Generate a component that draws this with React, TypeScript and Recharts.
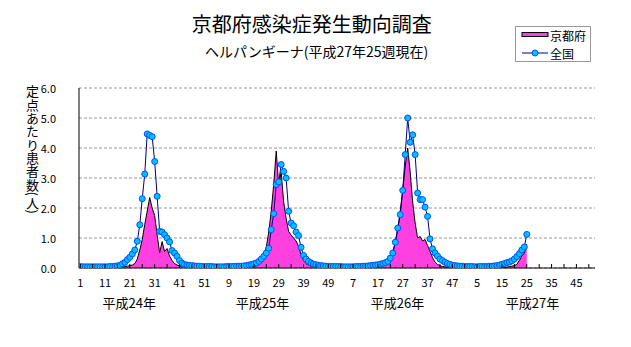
import React from 'react';
import { ComposedChart, Area, Line, XAxis, YAxis, CartesianGrid } from 'recharts';

// 全国 (national) per-year weekly values
const NATIONAL_2012 = [
  0.05, 0.04, 0.04, 0.04, 0.04, 0.04, 0.04, 0.04, 0.04, 0.04, 0.04, 0.04, 0.05,
  0.05, 0.06, 0.07, 0.09, 0.14, 0.19, 0.28, 0.36, 0.47, 0.6, 0.89, 1.44, 2.31,
  3.13, 4.47, 4.42, 4.38, 3.55, 2.39, 1.22, 1.2, 1.11, 1.0, 0.87, 0.58, 0.5,
  0.39, 0.25, 0.16, 0.12, 0.1, 0.09, 0.08, 0.07, 0.06, 0.06, 0.05, 0.05, 0.05,
];
const NATIONAL_2013 = [
  0.05, 0.05, 0.04, 0.04, 0.04, 0.04, 0.04, 0.05, 0.05, 0.05, 0.05, 0.06, 0.06,
  0.06, 0.07, 0.08, 0.1, 0.12, 0.14, 0.17, 0.22, 0.3, 0.39, 0.5, 0.66, 1.28,
  1.81, 2.78, 2.87, 3.45, 3.22, 3.0, 1.89, 1.5, 1.41, 1.2, 1.08, 0.69, 0.42,
  0.3, 0.22, 0.17, 0.13, 0.11, 0.09, 0.08, 0.07, 0.06, 0.06, 0.05, 0.05, 0.05,
];
const NATIONAL_2014 = [
  0.05, 0.05, 0.04, 0.04, 0.04, 0.04, 0.04, 0.05, 0.05, 0.05, 0.06, 0.06, 0.07,
  0.08, 0.09, 0.1, 0.11, 0.13, 0.15, 0.18, 0.22, 0.33, 0.5, 0.86, 1.33, 1.78,
  2.59, 3.78, 5.0, 4.19, 4.44, 3.78, 2.5, 2.28, 2.28, 2.03, 1.72, 0.97, 0.64,
  0.5, 0.4, 0.3, 0.25, 0.19, 0.15, 0.12, 0.09, 0.08, 0.07, 0.06, 0.06, 0.05,
];
const NATIONAL_2015 = [
  0.05, 0.05, 0.05, 0.04, 0.04, 0.05, 0.05, 0.05, 0.05, 0.06, 0.06, 0.07, 0.08,
  0.1, 0.12, 0.15, 0.18, 0.2, 0.24, 0.3, 0.38, 0.48, 0.6, 0.7, 1.12,
];

// 京都府 (Kyoto) per-year weekly values
const KYOTO_2012 = [
  0, 0, 0, 0, 0, 0, 0, 0, 0, 0, 0, 0, 0, 0.02, 0.02, 0.02, 0.03, 0.03, 0.05,
  0.06, 0.08, 0.1, 0.15, 0.3, 0.6, 0.95, 1.45, 1.9, 2.35, 2.0, 1.75, 1.1, 0.5,
  0.88, 0.55, 0.65, 0.4, 0.25, 0.15, 0.1, 0.07, 0.05, 0.04, 0.03, 0.02, 0.02,
  0.02, 0, 0, 0, 0, 0,
];
const KYOTO_2013 = [
  0, 0, 0, 0, 0, 0, 0, 0, 0, 0, 0, 0, 0, 0, 0.02, 0.03, 0.04, 0.05, 0.06, 0.08,
  0.12, 0.2, 0.35, 0.7, 1.2, 1.9, 2.8, 3.9, 2.75, 3.2, 2.2, 1.65, 1.22, 1.1,
  1.0, 0.9, 0.72, 0.45, 0.25, 0.15, 0.1, 0.07, 0.05, 0.04, 0.03, 0.02, 0.02,
  0.02, 0.02, 0.02, 0.02, 0.02,
];
const KYOTO_2014 = [
  0.02, 0.02, 0.02, 0.01, 0.01, 0.01, 0.01, 0.01, 0.01, 0.02, 0.02, 0.02, 0.02,
  0.02, 0.02, 0.03, 0.04, 0.05, 0.07, 0.1, 0.2, 0.35, 0.55, 0.85, 1.3, 1.9, 2.6,
  3.4, 4.0, 3.2, 2.2, 1.5, 1.0, 1.05, 0.9, 0.95, 0.75, 0.55, 0.35, 0.2, 0.12,
  0.08, 0.05, 0.04, 0.02, 0.02, 0.02, 0.02, 0.02, 0.02, 0.02, 0.02,
];
const KYOTO_2015 = [
  0.01, 0.01, 0.01, 0.01, 0.01, 0.01, 0.01, 0.01, 0.01, 0.01, 0.01, 0.01, 0.01,
  0.01, 0.01, 0.02, 0.03, 0.05, 0.06, 0.08, 0.12, 0.25, 0.4, 0.5, 0.8,
];

const WEEKS_ON_AXIS = 208; // 4 years x 52 weeks
const TICK_LABELS = [
  '1', '11', '21', '31', '41', '51', '9', '19', '29', '39', '49', '7', '17',
  '27', '37', '47', '5', '15', '25', '35', '45',
];
const YEAR_LABELS = ['平成24年', '平成25年', '平成26年', '平成27年'];
const Y_TICKS = [0, 1, 2, 3, 4, 5, 6];

const TITLE = '京都府感染症発生動向調査';
const SUBTITLE = 'ヘルパンギーナ(平成27年25週現在)';
const Y_LABEL = '定点あたり患者数(人)';
const SERIES_KYOTO = '京都府';
const SERIES_NATIONAL = '全国';

const national = [...NATIONAL_2012, ...NATIONAL_2013, ...NATIONAL_2014, ...NATIONAL_2015];
const kyoto = [...KYOTO_2012, ...KYOTO_2013, ...KYOTO_2014, ...KYOTO_2015];

const data = Array.from({ length: WEEKS_ON_AXIS }, (_, i) => ({
  i,
  national: i < national.length ? national[i] : null,
  kyoto: i < kyoto.length ? kyoto[i] : null,
}));

const xTicks = Array.from({ length: 42 }, (_, k) => k * 5);

const FONT = '"Noto Sans CJK JP", "Noto Sans", sans-serif';
const PINK = '#ff40e0';
const NAVY = '#000080';
const DOT_FILL = '#00c0ff';
const DOT_STROKE = '#0050ff';

const XTick = (props: any) => {
  const { x, y, payload } = props;
  const v = payload.value as number;
  const show = v % 10 === 0;
  return (
    <g>
      <line x1={x} x2={x} y1={y - 4} y2={y} stroke="#000" strokeWidth={1} />
      {show && (
        <text x={x} y={y + 14} textAnchor="middle" dominantBaseline="central" fontSize={11} fontFamily={FONT} fill="#000">
          {TICK_LABELS[v / 10]}
        </text>
      )}
    </g>
  );
};

const YTick = (props: any) => {
  const { x, y, payload } = props;
  return (
    <g>
      <text x={x - 23} y={y} textAnchor="end" dominantBaseline="central" fontSize={11} fontFamily={FONT} fill="#000">
        {(payload.value as number).toFixed(1)}
      </text>
    </g>
  );
};

export default function App() {
  return (
    <div style={{ position: 'absolute', left: 0, top: 0, width: 631, height: 347, background: '#fff' }}>
      <ComposedChart
        width={631}
        height={347}
        data={data}
        margin={{ top: 88, right: 36, bottom: 49, left: 19 }}
      >
        <CartesianGrid vertical={false} stroke="#999" strokeDasharray="3 2" />
        <XAxis
          dataKey="i"
          type="number"
          domain={[-0.5, WEEKS_ON_AXIS - 0.5]}
          ticks={xTicks}
          interval={0}
          height={30}
          tickSize={0}
          tickMargin={0}
          tickLine={false}
          axisLine={{ stroke: '#000' }}
          tick={<XTick />}
          allowDataOverflow
        />
        <YAxis
          domain={[0, 6]}
          ticks={Y_TICKS}
          interval={0}
          width={60}
          tickSize={0}
          tickMargin={0}
          tickLine={false}
          axisLine={{ stroke: '#000' }}
          tick={<YTick />}
          allowDataOverflow
        />
        <Area
          dataKey="kyoto"
          type="linear"
          stroke="#000"
          strokeWidth={1}
          fill={PINK}
          fillOpacity={1}
          isAnimationActive={false}
          dot={false}
          activeDot={false}
        />
        <Line
          dataKey="national"
          type="linear"
          stroke={NAVY}
          strokeWidth={1}
          dot={{ r: 3, fill: DOT_FILL, stroke: DOT_STROKE, strokeWidth: 1 }}
          activeDot={false}
          isAnimationActive={false}
        />
      </ComposedChart>
      <svg width={631} height={347} style={{ position: 'absolute', left: 0, top: 0, pointerEvents: 'none' }}>
        <text x={311.7} y={32} textAnchor="middle" fontSize={20} fontFamily={FONT} fill="#000">{TITLE}</text>
        <text x={316.7} y={57} textAnchor="middle" fontSize={14} fontFamily={FONT} fill="#000">{SUBTITLE}</text>
        <text
          x={32.5}
          y={85}
          fontSize={13}
          fontFamily={FONT}
          fill="#000"
          style={{ writingMode: 'vertical-rl' as any, letterSpacing: '0.3px' }}
        >
          {Y_LABEL}
        </text>
        {YEAR_LABELS.map((t, k) => (
          <text key={t} x={[129.2, 262.5, 397.5, 532.5][k]} y={302} textAnchor="middle" dominantBaseline="central" fontSize={13} fontFamily={FONT} fill="#000">{t}</text>
        ))}
        <rect x={515.5} y={26.5} width={75} height={35} fill="#fff" stroke="#999" strokeWidth={1} />
        <rect x={522} y={32.5} width={26} height={4} fill={PINK} stroke="#000" strokeWidth={1} />
        <text x={550} y={35} dominantBaseline="central" fontSize={12} fontFamily={FONT} fill="#000">{SERIES_KYOTO}</text>
        <line x1={522} x2={548} y1={53} y2={53} stroke={NAVY} strokeWidth={1} />
        <circle cx={535} cy={53} r={3} fill={DOT_FILL} stroke={DOT_STROKE} strokeWidth={1} />
        <text x={550} y={53.5} dominantBaseline="central" fontSize={12} fontFamily={FONT} fill="#000">{SERIES_NATIONAL}</text>
      </svg>
    </div>
  );
}
